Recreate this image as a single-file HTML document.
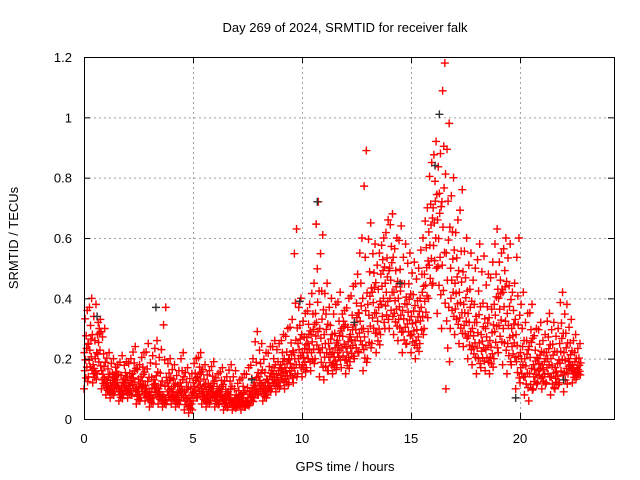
<!DOCTYPE html>
<html><head><meta charset="utf-8"><style>
body{margin:0;background:#fff}
svg{display:block;font-family:"Liberation Sans",sans-serif}
</style></head><body>
<svg id="chart" width="640" height="480"></svg>
<script>
const xTicks=[0,5,10,15,20];
const yTicks=[0,0.2,0.4,0.6,0.8,1,1.2];
const yTickLabels=["0","0.2","0.4","0.6","0.8","1","1.2"];
const slotStart=0, slotStep=0.2;
const redHi=[0.36,0.40,0.38,0.33,0.30,0.22,0.20,0.18,0.21,0.19,0.20,0.24,0.18,0.22,0.25,0.21,0.26,0.23,0.37,0.20,0.18,0.16,0.22,0.17,0.15,0.20,0.22,0.18,0.16,0.19,0.15,0.17,0.14,0.18,0.16,0.13,0.15,0.17,0.20,0.29,0.25,0.22,0.24,0.26,0.25,0.28,0.30,0.33,0.63,0.40,0.35,0.38,0.45,0.72,0.61,0.45,0.40,0.38,0.42,0.36,0.40,0.44,0.48,0.60,0.89,0.65,0.58,0.55,0.60,0.66,0.68,0.60,0.64,0.58,0.55,0.52,0.50,0.60,0.70,0.85,0.92,0.88,1.18,0.98,0.80,0.66,0.76,0.60,0.55,0.50,0.58,0.54,0.48,0.52,0.63,0.55,0.60,0.58,0.45,0.60,0.42,0.35,0.38,0.30,0.32,0.28,0.35,0.32,0.30,0.42,0.38,0.33,0.28,0.25];
const redMid=[0.22,0.25,0.18,0.28,0.16,0.13,0.12,0.14,0.10,0.13,0.12,0.15,0.10,0.14,0.11,0.09,0.13,0.10,0.08,0.12,0.10,0.08,0.12,0.09,0.07,0.12,0.14,0.10,0.09,0.11,0.08,0.10,0.07,0.09,0.06,0.07,0.08,0.06,0.09,0.12,0.14,0.11,0.13,0.16,0.15,0.18,0.17,0.20,0.22,0.25,0.22,0.27,0.28,0.35,0.30,0.28,0.25,0.22,0.26,0.30,0.24,0.28,0.32,0.35,0.30,0.38,0.42,0.35,0.48,0.45,0.50,0.42,0.40,0.36,0.38,0.34,0.32,0.40,0.48,0.62,0.70,0.66,0.72,0.55,0.50,0.45,0.42,0.38,0.35,0.30,0.32,0.28,0.30,0.26,0.38,0.40,0.42,0.35,0.30,0.28,0.22,0.20,0.24,0.18,0.20,0.18,0.22,0.20,0.17,0.25,0.22,0.20,0.18,0.17];
const redLo=[0.10,0.14,0.12,0.15,0.10,0.08,0.07,0.09,0.06,0.08,0.07,0.08,0.05,0.07,0.06,0.04,0.07,0.05,0.04,0.06,0.05,0.04,0.06,0.03,0.02,0.06,0.07,0.05,0.04,0.06,0.04,0.05,0.03,0.04,0.03,0.04,0.03,0.04,0.05,0.07,0.08,0.06,0.08,0.10,0.09,0.11,0.10,0.12,0.12,0.15,0.14,0.17,0.16,0.20,0.14,0.13,0.16,0.15,0.18,0.17,0.15,0.19,0.20,0.22,0.16,0.20,0.25,0.22,0.28,0.30,0.30,0.28,0.26,0.22,0.25,0.22,0.20,0.25,0.30,0.40,0.45,0.35,0.30,0.10,0.30,0.28,0.25,0.24,0.20,0.18,0.15,0.17,0.16,0.15,0.20,0.22,0.18,0.15,0.18,0.10,0.12,0.08,0.06,0.10,0.12,0.10,0.12,0.08,0.10,0.12,0.09,0.15,0.12,0.14];
const greyT=[0.6,3.3,7.7,9.9,10.7,12.4,14.5,16.3,16.1,19.8,22.0];
const greyV=[0.34,0.37,0.13,0.39,0.72,0.32,0.45,1.01,0.84,0.07,0.13];

const L=84,R=614,T=57,B=419,XMAX=24.31,YMAX=1.2;
const xs=v=>L+(R-L)*v/XMAX, ys=v=>B-(B-T)*v/YMAX;
const svg=document.getElementById('chart'), NS='http://www.w3.org/2000/svg';
function mk(tag,at,parent){const e=document.createElementNS(NS,tag);for(const k in at)e.setAttribute(k,at[k]);(parent||svg).appendChild(e);return e;}
function txt(s,at){const e=mk('text',at);e.textContent=s;return e;}

const grid=mk('g',{stroke:'#a0a0a0','stroke-width':1,'stroke-dasharray':'2,3'});


xTicks.forEach(v=>{if(v>0)mk('line',{x1:xs(v)+.5,x2:xs(v)+.5,y1:T,y2:B},grid);});
yTicks.forEach(v=>{if(v>0&&v<YMAX)mk('line',{x1:L,x2:R,y1:ys(v)+.5,y2:ys(v)+.5},grid);});

const marks=mk('g',{'stroke-width':1.4});


function cross(x,y,c){const p=mk('path',{d:`M${x-4},${y}h8M${x},${y-4}v8`,stroke:c},marks);

}
// within each slot, spread points between low, mid and high readings
const fr=[0,0.5,0.25,0.9,0.4,0.15,0.7,0.55,0.3,1,0.1,0.6];
redHi.forEach((hi,i)=>{
  const lo=redLo[i], mid=redMid[i];
  fr.forEach((f,k)=>{
    const t=slotStart+i*slotStep+k*slotStep/fr.length;
    const v=f<0.5? lo+(mid-lo)*f*2 : mid+(hi-mid)*(f-0.5)*2;
    cross(xs(t),ys(v),'#ff0000');
  });
});
greyT.forEach((t,i)=>cross(xs(t),ys(greyV[i]),'#333'));

const frame=mk('rect',{x:L+.5,y:T+.5,width:R-L,height:B-T,fill:'none',stroke:'#000'});


xTicks.forEach(v=>{mk('line',{x1:xs(v)+.5,x2:xs(v)+.5,y1:B,y2:B-6,stroke:'#000'});mk('line',{x1:xs(v)+.5,x2:xs(v)+.5,y1:T,y2:T+6,stroke:'#000'});
 const e=txt(String(v),{x:xs(v),y:B+24,'font-size':13,'text-anchor':'middle'});
 
 });
yTicks.forEach((v,i)=>{mk('line',{x1:L,x2:L+6,y1:ys(v)+.5,y2:ys(v)+.5,stroke:'#000'});mk('line',{x1:R-6,x2:R,y1:ys(v)+.5,y2:ys(v)+.5,stroke:'#000'});
 const e=txt(yTickLabels[i],{x:L-12,y:ys(v)+5,'font-size':13,'text-anchor':'end'});
 
 });
const ti=txt('Day 269 of 2024, SRMTID for receiver falk',{x:345,y:32,'font-size':13,'text-anchor':'middle'});


const xl=txt('GPS time / hours',{x:345,y:471,'font-size':13,'text-anchor':'middle'});


const yl=txt('SRMTID / TECUs',{x:0,y:0,'font-size':13,'text-anchor':'middle',transform:'translate(18,238) rotate(-90)'});


</script>
</body></html>
